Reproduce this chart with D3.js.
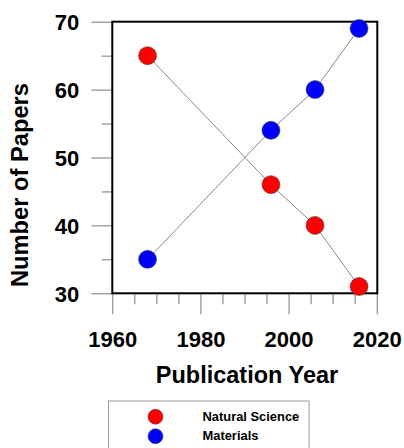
<!DOCTYPE html>
<html>
<head>
<meta charset="utf-8">
<script src="https://cdn.jsdelivr.net/npm/d3@7"></script>
<style>
  body { margin: 0; background: #fff; }
  svg { display: block; font-family: "Liberation Sans", Arial, sans-serif; font-weight: bold; }
</style>
</head>
<body>
<div id="chart"></div>
<script>
var w = 404;
var h = 448;

var years = [1968, 1996, 2006, 2016];
var naturalScience = [65, 46, 40, 31];
var materials = [35, 54, 60, 69];
var seriesNames = ["Natural Science", "Materials"];
var seriesColors = ["#ff0000", "#0000ff"];
var xTicks = [1960, 1980, 2000, 2020];
var xMinor = [1965, 1970, 1975, 1985, 1990, 1995, 2005, 2010, 2015];
var yTicks = [30, 40, 50, 60, 70];
var yMinor = [35, 45, 55, 65];

// plot box (window.top is read-only, so no "top" here)
var plotLeft = 112.3, plotRight = 376.7, plotTop = 21.7, plotBottom = 293.3;

var xScale = d3.scaleLinear().domain([1960, 2020]).range([plotLeft, plotRight]);
var yScale = d3.scaleLinear().domain([30, 70]).range([plotBottom, plotTop]);

var svg = d3.select("#chart")
            .append("svg")
            .attr("width", w)
            .attr("height", h);

// minor ticks
svg.append("g")
   .attr("class", "y minor")
   .attr("transform", "translate(" + plotLeft + ",0)")
   .call(d3.axisLeft(yScale).tickValues(yMinor).tickSize(10.5).tickSizeOuter(0).tickFormat(""));

svg.append("g")
   .attr("class", "x minor")
   .attr("transform", "translate(0," + plotBottom + ")")
   .call(d3.axisBottom(xScale).tickValues(xMinor).tickSize(11).tickSizeOuter(0).tickFormat(""));

// major ticks with labels
var yAxis = svg.append("g")
   .attr("class", "y axis")
   .attr("transform", "translate(" + plotLeft + ",0)")
   .call(d3.axisLeft(yScale).tickValues(yTicks).tickSize(21).tickSizeOuter(0).tickPadding(12));

var xAxis = svg.append("g")
   .attr("class", "x axis")
   .attr("transform", "translate(0," + plotBottom + ")")
   .call(d3.axisBottom(xScale).tickValues(xTicks).tickSize(21).tickSizeOuter(0).tickFormat(d3.format("d")));

svg.selectAll(".domain").remove();
svg.selectAll(".tick line").attr("stroke", "#777").attr("stroke-width", 1);

yAxis.selectAll("text")
     .attr("font-size", "22px")
     .attr("font-family", "Liberation Sans, Arial, sans-serif")
     .attr("font-weight", "bold")
     .attr("fill", "#000")
     .attr("dy", "0.36em");

xAxis.selectAll("text")
     .attr("font-size", "22px")
     .attr("font-family", "Liberation Sans, Arial, sans-serif")
     .attr("font-weight", "bold")
     .attr("fill", "#000")
     .attr("y", 54)
     .attr("dy", 0);

// frame
svg.append("rect")
   .attr("x", plotLeft)
   .attr("y", plotTop)
   .attr("width", plotRight - plotLeft + 0.6)
   .attr("height", plotBottom - plotTop)
   .attr("fill", "none")
   .attr("stroke", "#000")
   .attr("stroke-width", 2);

var series = [naturalScience, materials];

var line = d3.line()
             .x(function(d, i) { return xScale(years[i]); })
             .y(function(d) { return yScale(d); });

series.forEach(function(vals, k) {
  svg.append("path")
     .attr("d", line(vals))
     .attr("fill", "none")
     .attr("stroke", "#888")
     .attr("stroke-width", 1);
});

series.forEach(function(vals, k) {
  svg.append("g")
     .selectAll("circle")
     .data(vals)
     .enter()
     .append("circle")
     .attr("cx", function(d, i) { return xScale(years[i]); })
     .attr("cy", function(d) { return yScale(d); })
     .attr("r", 9)
     .attr("fill", seriesColors[k])
     .attr("stroke", "#444")
     .attr("stroke-width", 0.6);
});

// axis titles
svg.append("text")
   .attr("x", 247)
   .attr("y", 383)
   .attr("text-anchor", "middle")
   .attr("font-size", "23.5px")
   .text("Publication Year");

svg.append("text")
   .attr("transform", "translate(27.5,185) rotate(-90)")
   .attr("text-anchor", "middle")
   .attr("font-size", "23.7px")
   .text("Number of Papers");

// legend
svg.append("rect")
   .attr("x", 108.5)
   .attr("y", 401)
   .attr("width", 200.5)
   .attr("height", 60)
   .attr("fill", "none")
   .attr("stroke", "#999")
   .attr("stroke-width", 1);

var legend = svg.append("g")
   .selectAll("g")
   .data(seriesNames)
   .enter()
   .append("g")
   .attr("transform", function(d, i) { return "translate(0," + (i * 19.5) + ")"; });

legend.append("circle")
      .attr("cx", 155.5)
      .attr("cy", 416.7)
      .attr("r", 7.5)
      .attr("fill", function(d, i) { return seriesColors[i]; })
      .attr("stroke", "#444")
      .attr("stroke-width", 0.6);

legend.append("text")
      .attr("x", 202.5)
      .attr("y", 420.8)
      .attr("font-size", "12.9px")
      .text(function(d) { return d; });
</script>
</body>
</html>
